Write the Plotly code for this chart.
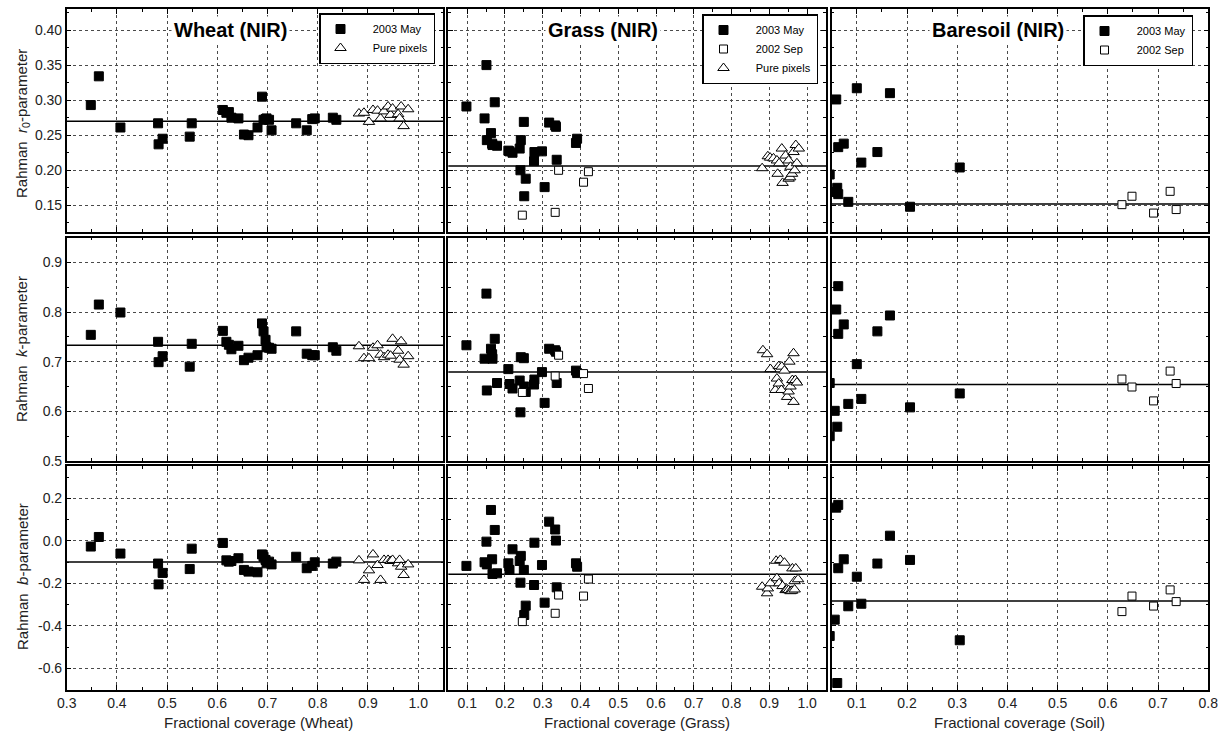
import plotly.graph_objects as go

FONT = "Liberation Sans, Arial, Helvetica, sans-serif"
W, H = 1221, 737

# ---------------- Wheat ----------------
wheat_may_x = [0.348, 0.364, 0.407, 0.482, 0.483, 0.491, 0.545, 0.549, 0.611, 0.618,
               0.623, 0.628, 0.642, 0.653, 0.662, 0.680, 0.689, 0.692, 0.696, 0.698,
               0.703, 0.708, 0.757, 0.778, 0.789, 0.794, 0.830, 0.837]
wheat_may_r0 = [0.293, 0.334, 0.261, 0.267, 0.237, 0.245, 0.248, 0.267, 0.286, 0.282,
                0.283, 0.275, 0.274, 0.251, 0.250, 0.261, 0.305, 0.272, 0.273, 0.274,
                0.272, 0.257, 0.267, 0.257, 0.273, 0.274, 0.275, 0.272]
wheat_may_k = [0.754, 0.815, 0.799, 0.740, 0.699, 0.711, 0.690, 0.736, 0.762, 0.740,
               0.734, 0.725, 0.732, 0.703, 0.708, 0.713, 0.777, 0.761, 0.744, 0.729,
               0.728, 0.726, 0.761, 0.716, 0.713, 0.713, 0.729, 0.722]
wheat_may_b = [-0.027, 0.018, -0.060, -0.107, -0.205, -0.151, -0.133, -0.037, -0.010, -0.092,
               -0.098, -0.095, -0.082, -0.137, -0.145, -0.148, -0.064, -0.075, -0.090, -0.106,
               -0.098, -0.111, -0.075, -0.129, -0.118, -0.101, -0.107, -0.098]

wheat_pure_x = [0.882, 0.892, 0.902, 0.910, 0.919, 0.925, 0.932, 0.940, 0.945, 0.949,
                0.960, 0.963, 0.966, 0.971, 0.980]
wheat_pure_r0 = [0.281, 0.282, 0.269, 0.286, 0.285, 0.274, 0.284, 0.291, 0.279, 0.288,
                 0.280, 0.274, 0.291, 0.263, 0.287]
wheat_pure_k = [0.731, 0.707, 0.707, 0.728, 0.733, 0.714, 0.709, 0.714, 0.712, 0.746,
                0.722, 0.704, 0.741, 0.694, 0.711]
wheat_pure_b = [-0.092, -0.184, -0.139, -0.064, -0.114, -0.184, -0.090, -0.090, -0.095, -0.090,
                -0.106, -0.090, -0.122, -0.161, -0.111]

wheat_mean = [0.270, 0.733, -0.100]

# ---------------- Grass ----------------
grass_may_x = [0.098, 0.146, 0.151, 0.152, 0.163, 0.166, 0.167, 0.173, 0.179, 0.209,
               0.212, 0.220, 0.239, 0.242, 0.241, 0.250, 0.251, 0.255, 0.277, 0.278,
               0.298, 0.305, 0.317, 0.333, 0.335, 0.337, 0.388, 0.391]
grass_may_r0 = [0.291, 0.274, 0.350, 0.243, 0.253, 0.238, 0.236, 0.297, 0.235, 0.228,
                0.227, 0.225, 0.231, 0.243, 0.200, 0.269, 0.163, 0.188, 0.213, 0.226,
                0.227, 0.176, 0.268, 0.264, 0.262, 0.215, 0.239, 0.245]
grass_may_k = [0.733, 0.706, 0.837, 0.642, 0.726, 0.715, 0.706, 0.746, 0.657, 0.685,
               0.655, 0.646, 0.662, 0.709, 0.598, 0.707, 0.650, 0.639, 0.654, 0.664,
               0.679, 0.617, 0.726, 0.723, 0.720, 0.657, 0.682, 0.677]
grass_may_b = [-0.118, -0.101, -0.004, -0.111, 0.145, -0.087, -0.156, 0.051, -0.153, -0.106,
               -0.137, -0.040, -0.095, -0.071, -0.197, -0.137, -0.349, -0.305, -0.208, -0.009,
               -0.114, -0.291, 0.090, 0.053, 0.001, -0.219, -0.106, -0.122]

grass_sep_x = [0.246, 0.333, 0.342, 0.408, 0.421]
grass_sep_r0 = [0.136, 0.140, 0.200, 0.183, 0.198]
grass_sep_k = [0.638, 0.671, 0.713, 0.676, 0.646]
grass_sep_b = [-0.380, -0.341, -0.255, -0.260, -0.180]

grass_pure_r0_x = [0.881, 0.896, 0.902, 0.911, 0.920, 0.926, 0.922, 0.933, 0.935, 0.943,
                   0.951, 0.951, 0.955, 0.956, 0.960, 0.964, 0.967, 0.970, 0.973, 0.978]
grass_pure_r0 = [0.203, 0.220, 0.218, 0.217, 0.214, 0.210, 0.195, 0.231, 0.182, 0.221,
                 0.214, 0.188, 0.190, 0.205, 0.195, 0.226, 0.200, 0.236, 0.210, 0.231]
grass_pure_k_x = [0.883, 0.894, 0.903, 0.916, 0.920, 0.925, 0.925, 0.932, 0.933, 0.940,
                  0.947, 0.951, 0.953, 0.956, 0.961, 0.964, 0.964, 0.967, 0.969, 0.973]
grass_pure_k = [0.723, 0.715, 0.685, 0.643, 0.666, 0.691, 0.656, 0.643, 0.690, 0.682,
                0.629, 0.640, 0.700, 0.650, 0.663, 0.717, 0.619, 0.660, 0.663, 0.658]
grass_pure_b_x = [0.881, 0.894, 0.896, 0.903, 0.918, 0.920, 0.926, 0.929, 0.935, 0.940,
                  0.943, 0.947, 0.951, 0.956, 0.960, 0.961, 0.967, 0.967, 0.970, 0.976]
grass_pure_b = [-0.216, -0.247, -0.224, -0.200, -0.094, -0.176, -0.200, -0.090, -0.213, -0.103,
                -0.232, -0.228, -0.232, -0.237, -0.235, -0.130, -0.229, -0.190, -0.130, -0.181]

grass_mean = [0.206, 0.679, -0.157]

# ---------------- Bare soil ----------------
soil_may_r0_x = [0.046, 0.055, 0.059, 0.061, 0.063, 0.063, 0.074, 0.083, 0.100, 0.109,
                 0.141, 0.166, 0.206, 0.305]
soil_may_r0 = [0.194, 0.169, 0.301, 0.175, 0.166, 0.233, 0.238, 0.155, 0.317, 0.211,
               0.226, 0.310, 0.148, 0.204]
soil_may_k_x = [0.046, 0.046, 0.056, 0.059, 0.061, 0.063, 0.063, 0.074, 0.083, 0.100,
                0.109, 0.141, 0.166, 0.206, 0.305]
soil_may_k = [0.657, 0.550, 0.601, 0.805, 0.569, 0.852, 0.756, 0.775, 0.615, 0.695,
              0.625, 0.761, 0.793, 0.608, 0.636]
soil_may_b_x = [0.046, 0.056, 0.059, 0.061, 0.063, 0.063, 0.074, 0.083, 0.100, 0.109,
                0.141, 0.166, 0.206, 0.305]
soil_may_b = [-0.448, -0.371, 0.156, -0.669, 0.169, -0.129, -0.087, -0.308, -0.169, -0.296,
              -0.107, 0.024, -0.090, -0.468]

soil_sep_x = [0.628, 0.648, 0.691, 0.724, 0.736]
soil_sep_r0 = [0.151, 0.163, 0.139, 0.170, 0.144]
soil_sep_k = [0.665, 0.649, 0.621, 0.681, 0.656]
soil_sep_b = [-0.333, -0.260, -0.307, -0.231, -0.286]

soil_mean = [0.152, 0.654, -0.283]

# ---------------- Axes / labels ----------------
panel_titles = ["Wheat (NIR)", "Grass (NIR)", "Baresoil (NIR)"]
x_titles = ["Fractional coverage (Wheat)", "Fractional coverage (Grass)",
            "Fractional coverage (Soil)"]
y_titles = ["Rahman\u00a0\u00a0<i>r</i><sub>0</sub>-parameter",
            "Rahman\u00a0\u00a0<i>k</i>-parameter",
            "Rahman\u00a0\u00a0<i>b</i>-parameter"]

x_ranges = [[0.3, 1.05], [0.05, 1.05], [0.05, 0.8]]
x_tickvals = [[0.3, 0.4, 0.5, 0.6, 0.7, 0.8, 0.9, 1.0],
              [0.1, 0.2, 0.3, 0.4, 0.5, 0.6, 0.7, 0.8, 0.9, 1.0],
              [0.1, 0.2, 0.3, 0.4, 0.5, 0.6, 0.7, 0.8]]
x_ticktext = [["0.3", "0.4", "0.5", "0.6", "0.7", "0.8", "0.9", "1.0"],
              ["0.1", "0.2", "0.3", "0.4", "0.5", "0.6", "0.7", "0.8", "0.9", "1.0"],
              ["0.1", "0.2", "0.3", "0.4", "0.5", "0.6", "0.7", "0.8"]]

y_ranges = [[0.112, 0.43], [0.5, 0.95], [-0.7, 0.35]]
y_tickvals = [[0.15, 0.20, 0.25, 0.30, 0.35, 0.40],
              [0.5, 0.6, 0.7, 0.8, 0.9],
              [-0.6, -0.4, -0.2, 0.0, 0.2]]
y_ticktext = [["0.15", "0.20", "0.25", "0.30", "0.35", "0.40"],
              ["0.5", "0.6", "0.7", "0.8", "0.9"],
              ["-0.6", "-0.4", "-0.2", "0.0", "0.2"]]
y_minor = [0.025, 0.05, 0.1]

# pixel frames of the panels
col_px = [(66.7, 443.3), (448.3, 826.0), (831.7, 1208.3)]
row_px = [(9.0, 232.0), (237.5, 461.0), (466.4, 689.6)]

PAD = "\u00a0" * 4
STYLE = {
    "may": dict(name=PAD + "2003 May", symbol="square", size=9, color="black"),
    "sep": dict(name=PAD + "2002 Sep", symbol="square", size=8, color="white"),
    "pure": dict(name=PAD + "Pure pixels", symbol="triangle-up", size=10, color="white"),
}

panels = {
    (0, 0): [("may", wheat_may_x, wheat_may_r0), ("pure", wheat_pure_x, wheat_pure_r0)],
    (1, 0): [("may", wheat_may_x, wheat_may_k), ("pure", wheat_pure_x, wheat_pure_k)],
    (2, 0): [("may", wheat_may_x, wheat_may_b), ("pure", wheat_pure_x, wheat_pure_b)],
    (0, 1): [("may", grass_may_x, grass_may_r0), ("sep", grass_sep_x, grass_sep_r0),
             ("pure", grass_pure_r0_x, grass_pure_r0)],
    (1, 1): [("may", grass_may_x, grass_may_k), ("sep", grass_sep_x, grass_sep_k),
             ("pure", grass_pure_k_x, grass_pure_k)],
    (2, 1): [("may", grass_may_x, grass_may_b), ("sep", grass_sep_x, grass_sep_b),
             ("pure", grass_pure_b_x, grass_pure_b)],
    (0, 2): [("may", soil_may_r0_x, soil_may_r0), ("sep", soil_sep_x, soil_sep_r0)],
    (1, 2): [("may", soil_may_k_x, soil_may_k), ("sep", soil_sep_x, soil_sep_k)],
    (2, 2): [("may", soil_may_b_x, soil_may_b), ("sep", soil_sep_x, soil_sep_b)],
}
means = [wheat_mean, grass_mean, soil_mean]
legend_ids = ["legend", "legend2", "legend3"]

fig = go.Figure()
layout = {}
shapes = []
annotations = []

AX_COMMON = dict(
    showline=True, linecolor="black", linewidth=1.5, mirror="allticks",
    ticks="inside", ticklen=5, tickwidth=1, tickcolor="black",
    showgrid=True, gridcolor="#4a4a4a", griddash="dot", gridwidth=1,
    zeroline=False, automargin=False,
    tickfont=dict(size=14, color="#222", family=FONT),
)

for r in range(3):
    for c in range(3):
        idx = r * 3 + c + 1
        sfx = "" if idx == 1 else str(idx)
        xid, yid = "x" + sfx, "y" + sfx
        x0, x1 = col_px[c]
        y0, y1 = row_px[r]
        layout["xaxis" + sfx] = dict(
            AX_COMMON,
            domain=[x0 / W, x1 / W], range=x_ranges[c], anchor=yid,
            tickmode="array", tickvals=x_tickvals[c], ticktext=x_ticktext[c],
            showticklabels=(r == 2),
            minor=dict(ticks="inside", ticklen=3, tickcolor="black", dtick=0.05, tick0=0,
                       showgrid=False),
        )
        layout["yaxis" + sfx] = dict(
            AX_COMMON,
            domain=[1 - y1 / H, 1 - y0 / H], range=y_ranges[r], anchor=xid,
            tickmode="array", tickvals=y_tickvals[r], ticktext=y_ticktext[r],
            showticklabels=(c == 0),
            minor=dict(ticks="inside", ticklen=3, tickcolor="black", dtick=y_minor[r], tick0=0,
                       showgrid=False),
        )
        # mean level of the panel
        shapes.append(dict(type="line", xref=xid + " domain", yref=yid, x0=0, x1=1,
                           y0=means[c][r], y1=means[c][r], layer="below",
                           line=dict(color="black", width=1.5)))
        for key, xs, ys in panels[(r, c)]:
            st = STYLE[key]
            fig.add_trace(go.Scatter(
                x=xs, y=ys, mode="markers", name=st["name"], xaxis=xid, yaxis=yid,
                legend=legend_ids[c], showlegend=(r == 0),
                marker=dict(symbol=st["symbol"], size=st["size"], color=st["color"],
                            line=dict(color="black", width=1)),
            ))

# panel titles sitting on the top grid line
title_px = [(230, 30), (603, 30), (998, 30)]
for c in range(3):
    px, py = title_px[c]
    annotations.append(dict(
        text="<b>" + panel_titles[c] + "</b>", xref="paper", yref="paper",
        x=px / W, y=1 - py / H, xanchor="center", yanchor="middle", showarrow=False,
        bgcolor="white", borderpad=2, font=dict(size=20, color="black", family=FONT)))

# x titles
xt_px = [258, 637, 1019]
for c in range(3):
    annotations.append(dict(
        text=x_titles[c], xref="paper", yref="paper", x=xt_px[c] / W, y=1 - 722 / H,
        xanchor="center", yanchor="middle", showarrow=False,
        font=dict(size=15, color="#222", family=FONT)))

# y titles
yt_px = [124, 349, 577]
for r in range(3):
    annotations.append(dict(
        text=y_titles[r], xref="paper", yref="paper", x=22 / W, y=1 - yt_px[r] / H,
        xanchor="center", yanchor="middle", textangle=-90, showarrow=False,
        font=dict(size=15, color="#222", family=FONT)))

legend_common = dict(xanchor="right", yanchor="top", bgcolor="white", bordercolor="black",
                     borderwidth=1.5, font=dict(size=11, color="black", family=FONT),
                     traceorder="normal", itemwidth=30, tracegroupgap=0)
layout["legend"] = dict(legend_common, x=435 / W, y=1 - 13 / H)
layout["legend2"] = dict(legend_common, x=818 / W, y=1 - 14 / H)
layout["legend3"] = dict(legend_common, x=1193 / W, y=1 - 15 / H)

fig.update_layout(
    width=W, height=H, autosize=False, margin=dict(l=0, r=0, t=0, b=0, autoexpand=False),
    paper_bgcolor="white", plot_bgcolor="white",
    font=dict(family=FONT, color="black"),
    shapes=shapes, annotations=annotations, **layout,
)

fig.write_html("out.html", config={"responsive": False})
